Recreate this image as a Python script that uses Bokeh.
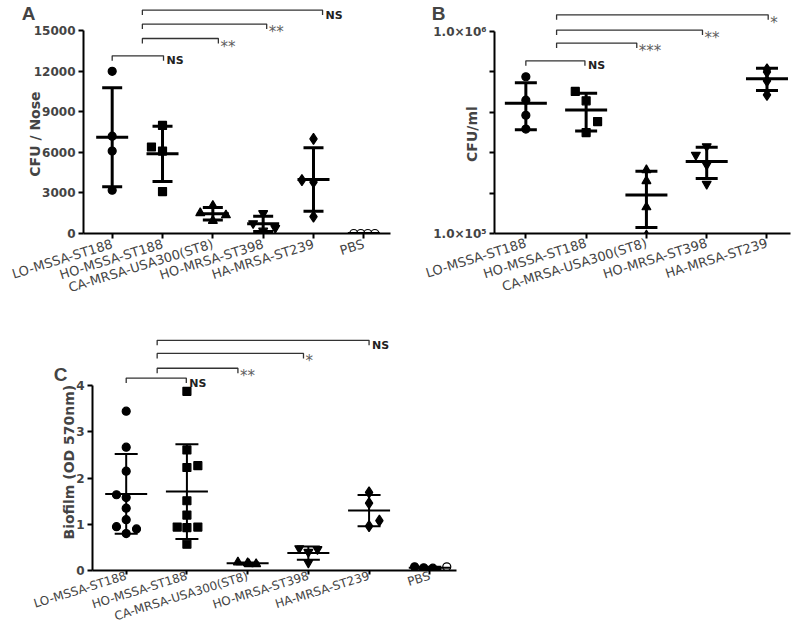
import math
import numpy as np
from bokeh.plotting import figure
from bokeh.layouts import column, row
from bokeh.models import FixedTicker, CustomJSTickFormatter, Range1d, LinearAxis
from bokeh.core.properties import value
from bokeh.embed import file_html
from bokeh.resources import INLINE

# ---------------- data ----------------
categories = ["LO-MSSA-ST188", "HO-MSSA-ST188", "CA-MRSA-USA300(ST8)",
              "HO-MRSA-ST398", "HA-MRSA-ST239", "PBS"]

# Panel A : CFU / Nose
a_lo_mssa = [12000, 7200, 6100, 3200]
a_ho_mssa = [8000, 6400, 6100, 3100]
a_ca_mrsa = [2050, 1510, 1360, 940]
a_ho_mrsa = [1500, 750, 400, 200]
a_ha_mrsa = [7000, 3950, 3800, 1250]
a_pbs = [0, 0, 0, 0]
a_ticks = [0, 3000, 6000, 9000, 12000, 15000]
a_comparisons = [(0.0, 1.02, "NS", 13150), (0.6, 2.11, "**", 14430),
                 (0.6, 3.07, "**", 15500), (0.6, 4.18, "NS", 16530)]

# Panel B : CFU/ml (log)
b_lo_mssa = [597000, 457000, 385000, 329000]
b_ho_mssa = [505000, 454000, 358000, 316000]
b_ca_mrsa = [206000, 182000, 135000, 98000]
b_ho_mrsa = [270000, 245000, 219000, 176000]
b_ha_mrsa = [650000, 630000, 570000, 486000]
b_comparisons = [(0.0, 0.98, "NS", 716000), (0.51, 1.84, "***", 876000),
                 (0.51, 2.93, "**", 1016000), (0.51, 4.02, "*", 1210000)]

# Panel C : Biofilm (OD 570nm)
c_lo_mssa = [3.45, 2.67, 2.15, 1.64, 1.58, 1.35, 1.10, 0.95, 0.90, 0.80]
c_ho_mssa = [3.88, 2.61, 2.23, 2.27, 1.51, 1.20, 0.94, 0.93, 0.94, 0.57]
c_ca_mrsa = [0.18, 0.16, 0.14, 0.14]
c_ho_mrsa = [0.48, 0.46, 0.40, 0.17]
c_ha_mrsa = [1.69, 1.46, 1.08, 0.96]
c_pbs = [0.08, 0.06, 0.05, 0.02, 0.08]
c_ticks = [0, 1, 2, 3, 4]
c_comparisons = [(0.0, 0.99, "NS", 4.167), (0.51, 1.84, "**", 4.38),
                 (0.51, 2.92, "*", 4.70), (0.51, 4.0, "NS", 4.985)]

# ---------------- layout / style ----------------
FONT = "DejaVu Sans"
NB = "\u00a0"
markers = ["circle", "square", "triangle", "inverted_triangle", "diamond", "circle"]
msize = {"circle": 8, "square": 8, "triangle": 9, "inverted_triangle": 9,
         "diamond": 11}

a_jitter = [[0, 0, 0, 0], [0, -0.22, 0, 0], [0, -0.25, 0.26, 0],
            [0, -0.2, 0.24, 0], [0, -0.23, 0, 0], [-0.2, -0.06, 0.08, 0.22]]
b_jitter = [[0, 0, 0, 0], [-0.18, 0, 0.19, 0], [0, 0, 0, 0],
            [0, -0.18, 0, 0], [0, 0, 0, 0]]
c_jitter = [[0, 0, 0, -0.16, 0, 0, 0, -0.16, 0.17, 0],
            [0, 0, 0, 0.18, 0, 0, -0.16, 0, 0.18, 0],
            [-0.16, 0, 0.14, 0.02], [-0.15, 0.15, 0, 0], [0, 0, 0.17, 0],
            [-0.25, -0.1, 0.05, 0.0, 0.28]]
c_pbs_markers = ["circle", "circle", "circle", "inverted_triangle", "circle"]
c_pbs_fill = ["black", "black", "black", "black", "white"]


def make_fig(width, height, x_range, y_range, y_type, borders, xfont,
             title_standoff, xstandoff):
    p = figure(width=width, height=height, x_range=x_range, y_range=y_range,
               y_axis_type=y_type, output_backend="svg", toolbar_location=None,
               min_border_left=borders[0], min_border_right=borders[1],
               min_border_top=borders[2], min_border_bottom=borders[3])
    p.outline_line_color = None
    p.grid.visible = False
    p.background_fill_color = "white"
    p.border_fill_color = "white"
    for ax in (p.xaxis[0], p.yaxis[0]):
        ax.axis_line_width = 2
        ax.major_tick_line_width = 2
        ax.major_tick_in = 0
        ax.major_tick_out = 5
        ax.minor_tick_line_color = None
        ax.major_label_standoff = 3
    yax = p.yaxis[0]
    yax.major_label_text_font = FONT
    yax.major_label_text_font_style = "bold"
    yax.major_label_text_font_size = "12px"
    yax.axis_label_text_font = FONT
    yax.axis_label_text_font_style = "bold"
    yax.axis_label_text_font_size = "14px"
    yax.axis_label_standoff = title_standoff
    xax = p.xaxis[0]
    xax.major_label_text_font = FONT
    xax.major_label_text_font_size = xfont
    xax.major_label_orientation = 0.30
    xax.major_label_standoff = xstandoff
    return p


def add_letter(p, txt, standoff, lines_down):
    ax = LinearAxis(axis_label="\n" * lines_down + txt,
                    ticker=FixedTicker(ticks=[]))
    ax.axis_line_color = None
    ax.major_tick_line_color = None
    ax.minor_tick_line_color = None
    ax.major_label_text_font_size = "1px"
    ax.axis_label_text_font = "Liberation Sans"
    ax.axis_label_text_font_style = "bold"
    ax.axis_label_text_font_size = "19px"
    ax.axis_label_orientation = "horizontal"
    ax.axis_label_align = "end"
    ax.axis_label_standoff = standoff
    p.add_layout(ax, "left")


def draw_groups(p, groups, jitter, mk_list, fill_list, mean_w, cap_w, lw):
    for i, vals in enumerate(groups):
        xs = [i + o for o in jitter[i]]
        mk = mk_list[i]
        if isinstance(mk, list):
            for x, v, m, f in zip(xs, vals, mk, fill_list[i]):
                p.scatter([x], [v], marker=m, size=msize[m], fill_color=f,
                          line_color="black", line_width=1.2)
        else:
            p.scatter(xs, vals, marker=mk, size=msize[mk],
                      fill_color=fill_list[i], line_color="black", line_width=1.2)
        arr = np.array(vals, dtype=float)
        m = arr.mean()
        s = arr.std(ddof=1)
        p.segment([i], [m - s], [i], [m + s], line_width=lw, line_color="black")
        p.scatter([i], [m], marker="dash", size=mean_w, line_width=lw,
                  line_color="black")
        p.scatter([i, i], [m - s, m + s], marker="dash", size=cap_w,
                  line_width=lw, line_color="black")


def draw_brackets(p, comps, drop_fn):
    for x0, x1, lab, lvl in comps:
        lo = drop_fn(lvl)
        p.line([x0, x0, x1, x1], [lo, lvl, lvl, lo], line_width=1.3,
               line_color="#333333")
        if lab == "NS":
            p.text([x1], [lvl], text=[lab], x_offset=3, y_offset=5,
                   text_font=value(FONT), text_font_style="bold",
                   text_font_size="11px", text_baseline="middle",
                   text_color="#222222")
        else:
            p.text([x1], [lvl], text=[lab], x_offset=2, y_offset=8,
                   text_font=value(FONT), text_font_size="15px",
                   text_baseline="middle", text_color="#606060")


# ---------------- Panel A ----------------
pa = make_fig(400, 320, Range1d(-0.57, 5.53), Range1d(0, 17242), "linear",
              (83, 10, 0, 87), "13px", -12, 5)
pa.yaxis[0].bounds = (0, 15000)
pa.yaxis[0].ticker = FixedTicker(ticks=a_ticks)
pa.yaxis[0].axis_label = "CFU / Nose" + NB * 7
pa.xaxis[0].ticker = FixedTicker(ticks=list(range(6)))
pa.xaxis[0].major_label_overrides = {i: c for i, c in enumerate(categories)}
a_groups = [a_lo_mssa, a_ho_mssa, a_ca_mrsa, a_ho_mrsa, a_ha_mrsa, a_pbs]
draw_groups(pa, a_groups, a_jitter, markers,
            ["black"] * 5 + ["white"], 32, 20, 3)
draw_brackets(pa, a_comparisons, lambda v: v - 370)
add_letter(pa, "A", -12, 1)

# ---------------- Panel B ----------------
pb = make_fig(400, 320, Range1d(-0.52, 4.39), Range1d(1e5, 1.424e6), "log",
              (94, 10, 0, 87), "13px", -50, 4)
pb.yaxis[0].bounds = (1e5, 1e6)
pb.yaxis[0].ticker = FixedTicker(ticks=[10 ** (5 + 0.2 * k) for k in range(6)])
pb.yaxis[0].formatter = CustomJSTickFormatter(code="""
const l = Math.log10(tick);
const e = Math.round(l);
if (Math.abs(l - e) > 1e-6) { return ""; }
const sup = {5: "\u2075", 6: "\u2076"};
return "1.0\u00d710" + sup[e];
""")
pb.yaxis[0].axis_label = "CFU/ml" + NB * 7
pb.xaxis[0].ticker = FixedTicker(ticks=list(range(5)))
pb.xaxis[0].major_label_overrides = {i: c for i, c in enumerate(categories[:5])}
b_groups = [b_lo_mssa, b_ho_mssa, b_ca_mrsa, b_ho_mrsa, b_ha_mrsa]
draw_groups(pb, b_groups, b_jitter, markers[:5], ["black"] * 5, 42, 22, 3)
draw_brackets(pb, b_comparisons, lambda v: v * 10 ** (-5 / 202))
add_letter(pb, "B", 16, 1)

# ---------------- Panel C ----------------
pc = make_fig(480, 312, Range1d(-0.555, 5.44), Range1d(0, 5.327), "linear",
              (92, 24, 4, 59), "12px", -4, 1)
pc.xaxis[0].major_tick_out = 4
pc.yaxis[0].bounds = (0, 4)
pc.yaxis[0].ticker = FixedTicker(ticks=c_ticks)
pc.yaxis[0].axis_label = "Biofilm (OD 570nm)" + NB * 6
pc.xaxis[0].ticker = FixedTicker(ticks=list(range(6)))
pc.xaxis[0].major_label_overrides = {i: c for i, c in enumerate(categories)}
c_groups = [c_lo_mssa, c_ho_mssa, c_ca_mrsa, c_ho_mrsa, c_ha_mrsa, c_pbs]
draw_groups(pc, c_groups, c_jitter, markers[:5] + [c_pbs_markers],
            ["black"] * 5 + [c_pbs_fill], 42, 23, 2)
draw_brackets(pc, c_comparisons, lambda v: v - 0.107)
add_letter(pc, "C", -9, 4)

layout = column(row(pa, pb), pc)
open("out.html", "w").write(file_html(layout, INLINE))
